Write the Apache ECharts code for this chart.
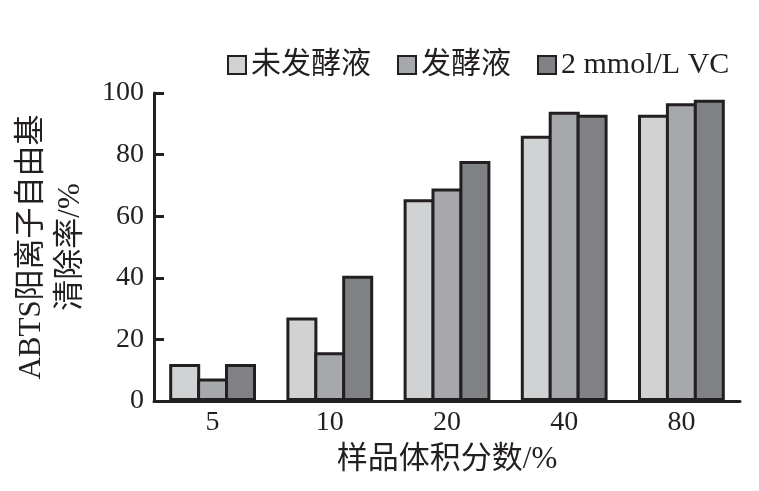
<!DOCTYPE html>
<html>
<head>
<meta charset="utf-8">
<script src="https://cdn.jsdelivr.net/npm/echarts@6/dist/echarts.min.js"></script>
<style>
  html, body { margin: 0; padding: 0; background: #fff; }
  #chart { width: 759px; height: 491px; }
</style>
</head>
<body>
<div id="chart"></div>
<script>
// 样品体积分数 / %
var categories = ['5', '10', '20', '40', '80'];
var seriesNames = ['未发酵液', '发酵液', '2 mmol/L VC'];
var unfermented = [12.0, 27.1, 65.5, 86.1, 92.9];
var fermented = [7.3, 15.8, 69.0, 93.9, 96.7];
var vc = [12.0, 40.7, 77.9, 92.9, 97.8];

var ink = '#231f20';
var font = "'Liberation Serif', 'Times New Roman', 'Noto Sans CJK SC', serif";
var colors = ['#d1d2d4', '#a7a8ab', '#808185'];

var chart = echarts.init(document.getElementById('chart'));

function barSeries(name, data, idx) {
    return {
        name: name,
        type: 'bar',
        data: data,
        barWidth: 31,
        barGap: '-10%',   // neighbouring bars share one border line
        itemStyle: {
            color: colors[idx],
            borderColor: ink,
            borderWidth: 3
        },
        emphasis: { disabled: true }
    };
}

var option = {
    animation: false,
    textStyle: { fontFamily: font, color: ink },
    legend: {
        left: 222,
        top: 45,
        itemWidth: 18,
        itemHeight: 18,
        itemGap: 26,
        icon: 'rect',
        itemStyle: { borderWidth: 2, borderColor: ink },
        textStyle: { fontFamily: font, fontSize: 30, color: ink },
        data: seriesNames
    },
    grid: { left: 154, right: 19, top: 93, bottom: 90 },
    xAxis: {
        type: 'category',
        data: categories,
        name: '样品体积分数/%',
        nameLocation: 'middle',
        nameGap: 43,
        nameTextStyle: { fontFamily: font, fontSize: 31, color: ink },
        axisLine: { lineStyle: { color: ink, width: 3 } },
        axisTick: { inside: true, length: 8, lineStyle: { color: ink, width: 3 } },
        axisLabel: { fontFamily: font, fontSize: 28, color: ink, margin: 8 },
        splitLine: { show: false }
    },
    yAxis: {
        type: 'value',
        min: 0,
        max: 100,
        interval: 20,
        name: 'ABTS阳离子自由基\n清除率/%',
        nameLocation: 'middle',
        nameRotate: 90,
        nameGap: 64,
        nameTextStyle: { fontFamily: font, fontSize: 31, color: ink, lineHeight: 39 },
        axisLine: { show: true, lineStyle: { color: ink, width: 3 } },
        axisTick: { show: true, inside: true, length: 10, lineStyle: { color: ink, width: 3 } },
        axisLabel: { fontFamily: font, fontSize: 28, color: ink, margin: 10 },
        splitLine: { show: false }
    },
    series: [
        barSeries(seriesNames[0], unfermented, 0),
        barSeries(seriesNames[1], fermented, 1),
        barSeries(seriesNames[2], vc, 2)
    ]
};

chart.setOption(option);
</script>
</body>
</html>
